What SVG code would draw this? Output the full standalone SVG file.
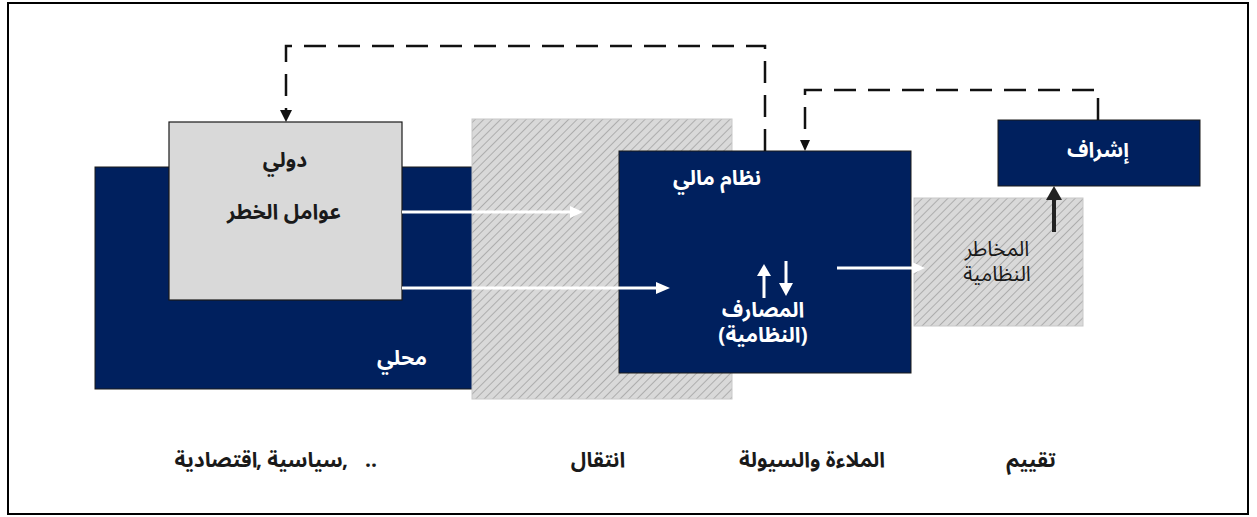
<svg xmlns="http://www.w3.org/2000/svg" width="1257" height="517" viewBox="0 0 1257 517">
<style>
.t{font-family:"Noto Sans Arabic","Noto Sans","DejaVu Sans",sans-serif;font-size:21px;font-weight:bold;text-anchor:middle}
.n{font-weight:normal;font-size:21px}
.dk{fill:#1a1a1a}
.wt{fill:#ffffff}
.navy{fill:#00205e;stroke:#1a1a1a;stroke-width:1}
.hatch{fill:url(#hp);stroke:#c8c8c8;stroke-width:1}
.dash{fill:none;stroke:#111;stroke-width:2.5;stroke-dasharray:22 12}
.wline{stroke:#fff;stroke-width:3;fill:none}
</style>
<defs>
<pattern id="hp" patternUnits="userSpaceOnUse" width="6" height="6" patternTransform="rotate(45)">
<rect width="6" height="6" fill="#d9d9d9"/>
<line x1="0" y1="0" x2="0" y2="6" stroke="#9a9a9a" stroke-width="1.4"/>
</pattern>
</defs>
<rect x="0" y="0" width="1257" height="517" fill="#fff"/>
<rect x="8" y="3" width="1240" height="511" fill="none" stroke="#000" stroke-width="2"/>

<g id="local">
<rect x="95" y="167" width="378" height="222" class="navy"/>
<text x="402" y="365" class="t wt">محلي</text>
</g>
<g id="risk-factors">
<rect x="169" y="122" width="233" height="178" fill="#d9d9d9" stroke="#1a1a1a" stroke-width="1.2"/>
<text x="285" y="167" class="t dk">دولي</text>
<text x="284" y="219" class="t dk">عوامل الخطر</text>
</g>
<g id="transfer">
<rect x="472" y="119" width="260" height="280" class="hatch"/>
</g>
<g id="financial-system">
<rect x="619" y="151" width="292" height="222" class="navy" stroke="#5a6a90"/>
<text x="717" y="185" class="t wt">نظام مالي</text>
<text x="763" y="317" class="t wt">المصارف</text>
<text x="763" y="342" class="t wt">(النظامية)</text>
</g>
<g id="systemic-risk">
<rect x="914" y="198" width="169" height="128" class="hatch"/>
<text x="997" y="256" class="t n dk">المخاطر</text>
<text x="997" y="281" class="t n dk">النظامية</text>
</g>
<g id="supervision">
<rect x="998" y="120" width="202" height="66" class="navy"/>
<text x="1098" y="157" class="t wt">إشراف</text>
</g>

<g id="connectors">
<path d="M765,151 V46 H286 V112" class="dash"/>
<path d="M280,110 L292,110 L286,122 z" fill="#111"/>
<path d="M1098,120 V90 H805 V141" class="dash" stroke-dasharray="16 10"/>
<path d="M800,140 L810,140 L805,151 z" fill="#111"/>
<line x1="402" y1="212" x2="572" y2="212" class="wline"/>
<path d="M570,206 L583,212 L570,218 z" fill="#fff"/>
<line x1="402" y1="288" x2="658" y2="288" class="wline"/>
<path d="M656,282 L670,288 L656,294 z" fill="#fff"/>
<line x1="837" y1="268" x2="914" y2="268" class="wline"/>
<path d="M912,262 L925,268 L912,274 z" fill="#fff"/>
<line x1="764" y1="298" x2="764" y2="274" stroke="#fff" stroke-width="3"/>
<path d="M757,276 L764,264 L771,276 z" fill="#fff"/>
<line x1="786" y1="261" x2="786" y2="285" stroke="#fff" stroke-width="3"/>
<path d="M779,283 L786,296 L793,283 z" fill="#fff"/>
<line x1="1054" y1="232" x2="1054" y2="198" stroke="#222" stroke-width="4"/>
<path d="M1046,200 L1054,186 L1062,200 z" fill="#222"/>
</g>

<g id="labels">
<g id="label-factors">
<text x="216" y="467" class="t dk">اقتصادية</text>
<text x="259" y="467" class="t dk">,</text>
<text x="305" y="467" class="t dk">سياسية</text>
<text x="345" y="467" class="t dk">,</text>
<text x="371" y="467" class="t dk">..</text>
</g>
<text x="598" y="467" class="t dk">انتقال</text>
<text x="812" y="467" class="t dk">الملاءة والسيولة</text>
<text x="1031" y="467" class="t dk">تقييم</text>
</g>
</svg>
